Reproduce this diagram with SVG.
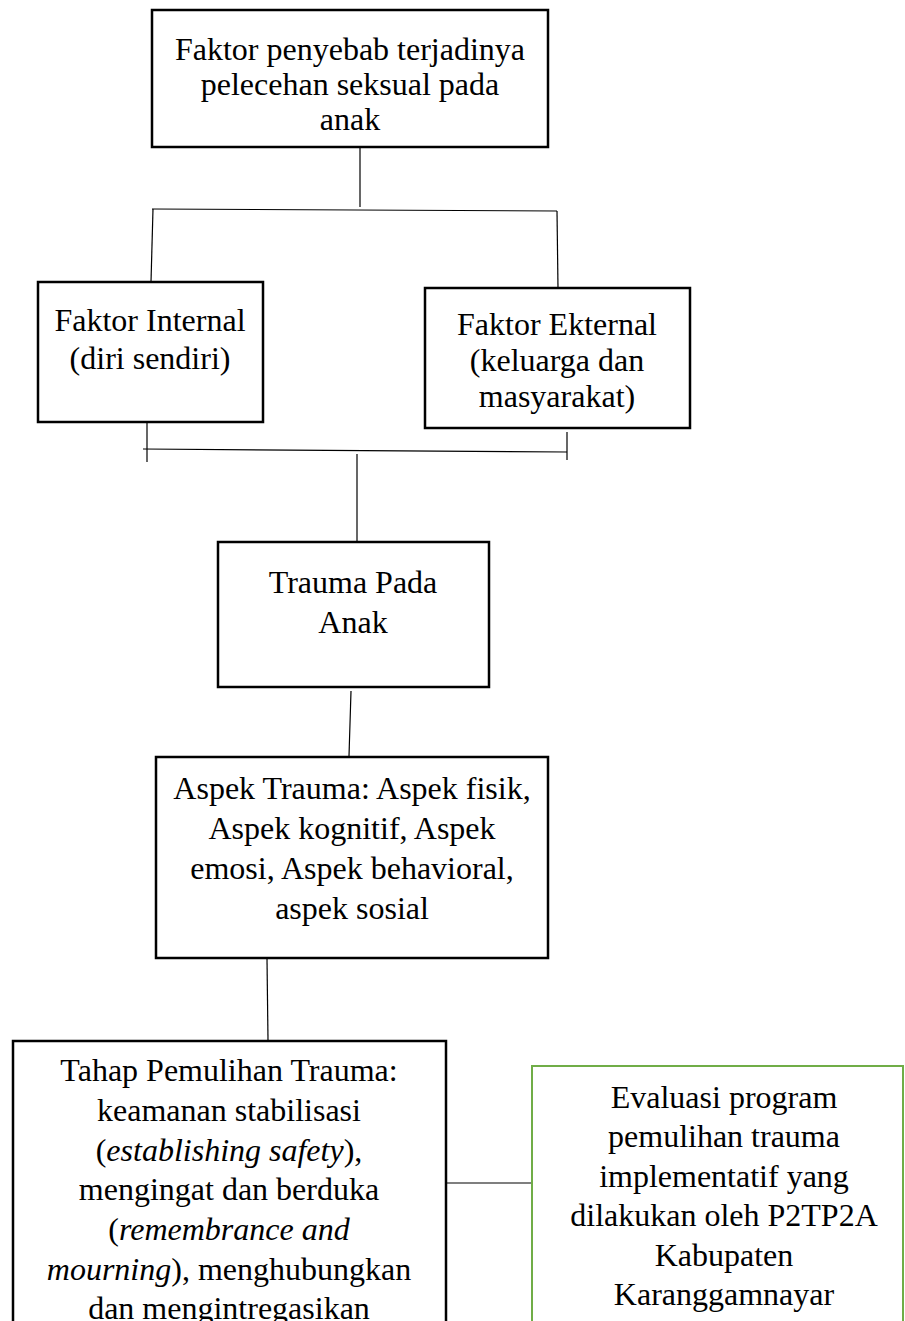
<svg xmlns="http://www.w3.org/2000/svg" width="905" height="1321" viewBox="0 0 905 1321">
<style>
.box{fill:#fff;stroke:#000;stroke-width:2.5}
.green{fill:#fff;stroke:#70AD47;stroke-width:2}
.t{font-family:"Liberation Serif","Times New Roman",serif;font-size:32px;fill:#000;text-anchor:middle}
.c{stroke:#000;stroke-width:1.2;fill:none}
</style>
<rect width="905" height="1321" fill="#fff"/>
<g id="connectors">
<line class="c" x1="360" y1="147" x2="360" y2="207"/>
<line class="c" x1="152" y1="209" x2="557" y2="211"/>
<line class="c" x1="153" y1="209" x2="151" y2="282"/>
<line class="c" x1="557" y1="211" x2="558" y2="288"/>
<line class="c" x1="147" y1="423" x2="147" y2="462"/>
<line class="c" x1="143" y1="449" x2="567" y2="452"/>
<line class="c" x1="567" y1="432" x2="567" y2="460"/>
<line class="c" x1="357" y1="454" x2="357" y2="541"/>
<line class="c" x1="351" y1="691" x2="349" y2="756"/>
<line class="c" x1="267" y1="959" x2="268" y2="1040"/>
<line class="c" x1="446" y1="1183" x2="532" y2="1183"/>
</g>
<g id="node-faktor-penyebab">
<rect class="box" x="152" y="10" width="396" height="137"/>
<text class="t" x="350" y="60">Faktor penyebab terjadinya</text>
<text class="t" x="350" y="95">pelecehan seksual pada</text>
<text class="t" x="350" y="130">anak</text>
</g>
<g id="node-internal">
<rect class="box" x="38" y="282" width="225" height="140"/>
<text class="t" x="150" y="331">Faktor Internal</text>
<text class="t" x="150" y="369">(diri sendiri)</text>
</g>
<g id="node-eksternal">
<rect class="box" x="425" y="288" width="265" height="140"/>
<text class="t" x="557" y="335">Faktor Ekternal</text>
<text class="t" x="557" y="371">(keluarga dan</text>
<text class="t" x="557" y="407">masyarakat)</text>
</g>
<g id="node-trauma">
<rect class="box" x="218" y="542" width="271" height="145"/>
<text class="t" x="353" y="593">Trauma Pada</text>
<text class="t" x="353" y="633">Anak</text>
</g>
<g id="node-aspek">
<rect class="box" x="156" y="757" width="392" height="201"/>
<text class="t" x="352" y="799">Aspek Trauma: Aspek fisik,</text>
<text class="t" x="352" y="839">Aspek kognitif, Aspek</text>
<text class="t" x="352" y="879">emosi, Aspek behavioral,</text>
<text class="t" x="352" y="919">aspek sosial</text>
</g>
<g id="node-tahap">
<rect class="box" x="13" y="1041" width="433" height="300"/>
<text class="t" x="229" y="1081">Tahap Pemulihan Trauma:</text>
<text class="t" x="229" y="1121">keamanan stabilisasi</text>
<text class="t" x="229" y="1161">(<tspan font-style="italic">establishing safety</tspan>),</text>
<text class="t" x="229" y="1200">mengingat dan berduka</text>
<text class="t" x="229" y="1240">(<tspan font-style="italic">remembrance and</tspan></text>
<text class="t" x="229" y="1280"><tspan font-style="italic">mourning</tspan>), menghubungkan</text>
<text class="t" x="229" y="1319">dan mengintregasikan</text>
</g>
<g id="node-evaluasi">
<rect class="green" x="532" y="1066" width="371" height="280"/>
<text class="t" x="724" y="1108">Evaluasi program</text>
<text class="t" x="724" y="1147">pemulihan trauma</text>
<text class="t" x="724" y="1187">implementatif yang</text>
<text class="t" x="724" y="1226">dilakukan oleh P2TP2A</text>
<text class="t" x="724" y="1266">Kabupaten</text>
<text class="t" x="724" y="1305">Karanggamnayar</text>
</g>
</svg>
